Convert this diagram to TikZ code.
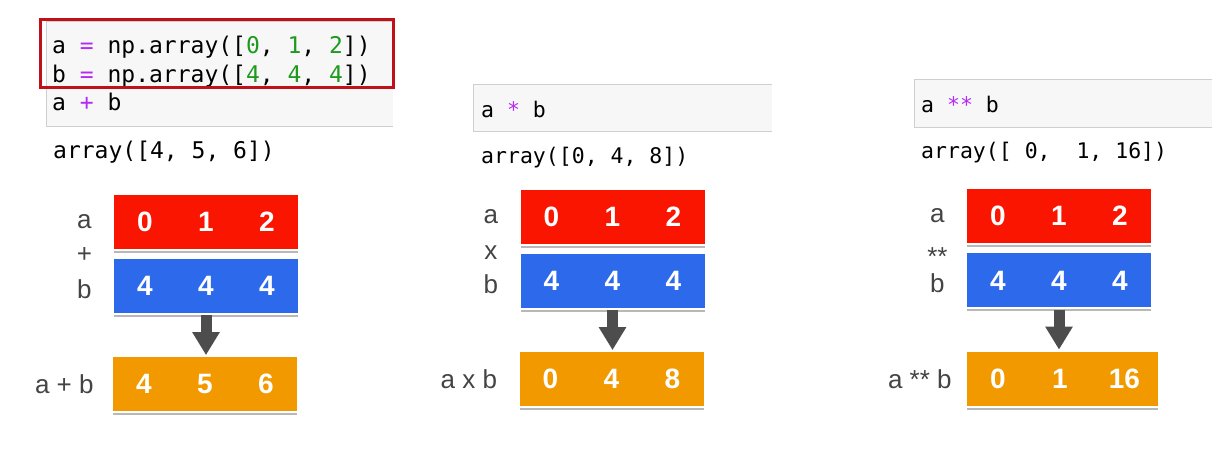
\documentclass[tikz,border=0pt]{standalone}
\usepackage{fontspec}
\setmainfont{Liberation Sans}
\setmonofont{DejaVu Sans Mono}
\usetikzlibrary{arrows.meta, positioning, shadows, calc}
\definecolor{arrred}{HTML}{FA1500}
\definecolor{arrblue}{HTML}{2D69EB}
\definecolor{arrorange}{HTML}{F39900}
\definecolor{arrowgray}{HTML}{4D4D4D}
\definecolor{labelgray}{HTML}{444444}
\definecolor{cellbg}{HTML}{F7F7F7}
\definecolor{cellborder}{HTML}{CFCFCF}
\definecolor{opcolor}{HTML}{B52BF5}
\definecolor{numcolor}{HTML}{1E9A1E}
\definecolor{framered}{HTML}{C0101A}

\newcommand{\cells}[3]{\makebox[61pt]{#1}\makebox[61pt]{#2}\makebox[61pt]{#3}}
\newcommand{\opc}[1]{\textcolor{opcolor}{#1}}
\newcommand{\nm}[1]{\textcolor{numcolor}{#1}}

\begin{document}
\begin{tikzpicture}[x=1pt, y=-1pt,
  vec/.style={minimum width=184pt, minimum height=54pt, inner sep=0pt, text=white,
    font=\fontsize{28}{32}\selectfont\bfseries,
    general shadow={fill=black!28, shadow yshift=-4pt},
    general shadow={fill=white, shadow yshift=-2pt}},
  lbl/.style={text=labelgray, inner sep=0pt, font=\fontsize{26}{30}\selectfont},
  cell/.style={fill=cellbg, inner sep=0pt},
  code1/.style={inner sep=0pt, anchor=base west, font=\ttfamily\fontsize{23}{28}\selectfont},
  code2/.style={inner sep=0pt, anchor=base west, font=\ttfamily\fontsize{21.5}{26}\selectfont},
  frame/.style={draw=framered, line width=3pt, inner sep=0pt},
  bigarrow/.style={draw=arrowgray, line width=11pt, -{Triangle[width=26pt, length=23pt]},
    shorten <=2pt, shorten >=2pt}]
  \useasboundingbox (0,0) rectangle (1230,467);

  % Code cells
  \node (in1) [cell, minimum width=346pt, minimum height=104pt] at (220,74) {};
  \draw[cellborder, line width=1pt] (in1.north east) -- (in1.north west) -- (in1.south west) -- (in1.south east);
  \node (c1a) [code1] at (52,53) {a \opc{=} np.array([\nm{0}, \nm{1}, \nm{2}])};
  \node (c1b) [code1] at (52,82) {b \opc{=} np.array([\nm{4}, \nm{4}, \nm{4}])};
  \node (c1c) [code1] at (52,110) {a \opc{+} b};
  \node (hl) [frame, minimum width=353pt, minimum height=68pt] at (216.5,53) {};
  \node (out1) [code1] at (53,158) {array([4, 5, 6])};

  \node (in2) [cell, minimum width=298pt, minimum height=46pt] at (623,108) {};
  \draw[cellborder, line width=1pt] (in2.north east) -- (in2.north west) -- (in2.south west) -- (in2.south east);
  \node (c2a) [code2] at (481,117) {a \opc{*} b};
  \node (out2) [code2] at (481,163) {array([0, 4, 8])};

  \node (in3) [cell, minimum width=297pt, minimum height=47pt] at (1063.5,103.5) {};
  \draw[cellborder, line width=1pt] (in3.north east) -- (in3.north west) -- (in3.south west) -- (in3.south east);
  \node (c3a) [code2] at (921,112) {a \opc{**} b};
  \node (out3) [code2] at (921,158) {array([ 0,~ 1, 16])};

  % a + b
  \node (a1) [vec, fill=arrred] at (206,221.5) {\cells{0}{1}{2}};
  \node (b1) [vec, fill=arrblue, below=10pt of a1] {\cells{4}{4}{4}};
  \node (r1) [vec, fill=arrorange, below=44pt of b1, xshift=-1pt] {\cells{4}{5}{6}};
  \node (la1) [lbl, left=22pt of a1] {a};
  \node (lb1) [lbl, left=22pt of b1, yshift=-3pt] {b};
  \node (lop1) [lbl] at ($(la1)!0.5!(lb1)$) {+};
  \node (ls1) [lbl, left=19pt of r1] {a + b};
  \draw[bigarrow] (b1.south) -- (b1.south |- r1.north);

  % a * b
  \node (a2) [vec, fill=arrred] at (612.5,216.5) {\cells{0}{1}{2}};
  \node (b2) [vec, fill=arrblue, below=10pt of a2] {\cells{4}{4}{4}};
  \node (r2) [vec, fill=arrorange, below=44pt of b2, xshift=-1pt] {\cells{0}{4}{8}};
  \node (la2) [lbl, left=22pt of a2] {a};
  \node (lb2) [lbl, left=22pt of b2, yshift=-3pt] {b};
  \node (lop2) [lbl, yshift=-2pt] at ($(la2)!0.5!(lb2)$) {x};
  \node (ls2) [lbl, left=22pt of r2] {a x b};
  \draw[bigarrow] (b2.south) -- (b2.south |- r2.north);

  % a ** b
  \node (a3) [vec, fill=arrred] at (1059,216) {\cells{0}{1}{2}};
  \node (b3) [vec, fill=arrblue, below=10pt of a3] {\cells{4}{4}{4}};
  \node (r3) [vec, fill=arrorange, minimum width=191pt, below=44pt of b3, xshift=3.5pt]
    {\makebox[62pt]{0}\makebox[62pt]{1}\makebox[67pt]{16}};
  \node (la3) [lbl, left=22pt of a3] {a};
  \node (lb3) [lbl, left=22pt of b3, yshift=-3pt] {b};
  \node (lop3) [lbl, yshift=-7pt] at ($(la3)!0.5!(lb3)$) {**};
  \node (ls3) [lbl, left=15pt of r3] {a ** b};
  \draw[bigarrow] (b3.south) -- (b3.south |- r3.north);
\end{tikzpicture}
\end{document}
